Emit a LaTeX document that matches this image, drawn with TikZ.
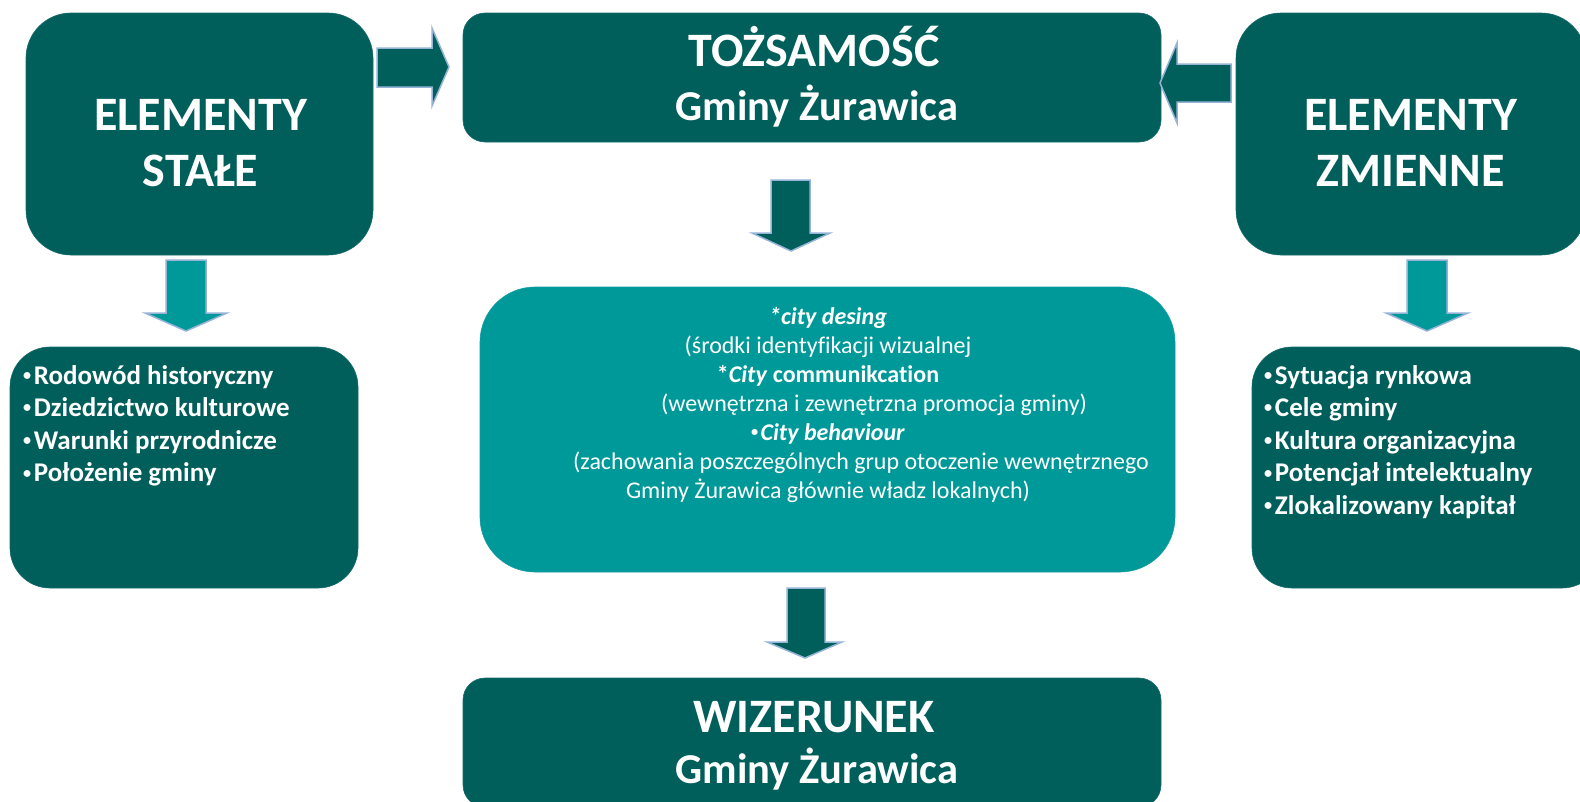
\documentclass[tikz,border=0pt]{standalone}
\usepackage{fontspec}
\setmainfont{Carlito}[Ligatures={NoCommon}, RawFeature={-calt}]
\usepackage{tikz}

\definecolor{tealdark}{RGB}{0,95,90}
\definecolor{teallight}{RGB}{0,153,153}
\definecolor{arrowedge}{RGB}{149,179,215}

% maly punktor jak w oryginale
\newcommand{\kropka}{\raisebox{0.14em}{\scalebox{0.6}{•}}\hspace{0.1em}}

\begin{document}
\begin{tikzpicture}[x=1pt, y=-1pt]
    \tikzset{
      box/.style={fill=tealdark, draw=tealdark!85!arrowedge, line width=0.6pt, inner sep=0pt},
      midbox/.style={box, fill=teallight, draw=teallight!85!arrowedge},
      blockarrow/.style={fill=tealdark, draw=arrowedge, line width=1.5pt, line join=miter},
      lightarrow/.style={blockarrow, fill=teallight},
      titletext/.style={text=white, anchor=base, inner sep=0pt, font=\bfseries\fontsize{48}{57}\selectfont},
      subtext/.style={titletext, font=\bfseries\fontsize{42.5}{50}\selectfont},
      listtext/.style={text=white, anchor=north west, inner sep=0pt, align=left, font=\bfseries\fontsize{27}{32.6}\selectfont},
      midtext/.style={text=white, anchor=north, inner sep=0pt, align=center, font=\fontsize{24}{29}\selectfont}
    }
    \clip (0,0) rectangle (1580,801);
    \fill[white] (0,0) rectangle (1580,801);

    % Elementy stale
    \node[box, rounded corners=45pt, minimum width=347pt, minimum height=242pt] (stale) at (199.5,134) {};
    \node[titletext] (staleA) at (200.5,130) {ELEMENTY};
    \node[titletext] (staleB) at (200.5,186) {STAŁE};

    % Tozsamosc
    \node[box, rounded corners=22pt, minimum width=698pt, minimum height=129pt] (tozsamosc) at (812,77.5) {};
    \node[titletext] (tozsamoscA) at (814,66) {TOŻSAMOŚĆ};
    \node[subtext] (tozsamoscB) at (817,120) {Gminy Żurawica};

    % Elementy zmienne
    \node[box, rounded corners=45pt, minimum width=350pt, minimum height=242pt] (zmienne) at (1411,134) {};
    \node[titletext] (zmienneA) at (1410.5,130) {ELEMENTY};
    \node[titletext] (zmienneB) at (1410.5,186) {ZMIENNE};

    % listy
    \node[box, rounded corners=40pt, minimum width=348pt, minimum height=241pt] (stalelist) at (184,467.5) {};
    \node[listtext] (staletxt) at (23,365) {\kropka Rodowód historyczny\\\kropka Dziedzictwo kulturowe\\\kropka Warunki przyrodnicze\\\kropka Położenie gminy};
    \node[box, rounded corners=40pt, minimum width=350pt, minimum height=241pt] (zmiennelist) at (1427,467.5) {};
    \node[listtext] (zmiennetxt) at (1264,365) {\kropka Sytuacja rynkowa\\\kropka Cele gminy\\\kropka Kultura organizacyjna\\\kropka Potencjał intelektualny\\\kropka Zlokalizowany kapitał};

    % srodek
    \node[midbox, rounded corners=55pt, minimum width=695pt, minimum height=285pt] (srodki) at (827.5,429.5) {};
    \node[midtext] (srodkitxt) at (828,307) {\textbf{\textit{*city desing}}\\
      (środki identyfikacji wizualnej\\
      \textbf{*\textit{City} communikca\kern0pt tion}\\
      \hspace*{92pt}(wewnętrzna i zewnętrzna promocja gminy)\\
      \textbf{\kropka\textit{City behaviour}}\\
      \hspace*{66pt}(zachowania poszczególnych grup otoczenie wewnętrznego\\
      Gminy Żurawica głównie władz lokalnych)};

    % Wizerunek
    \node[box, rounded corners=22pt, minimum width=698pt, minimum height=129pt] (wizerunek) at (812,742.5) {};
    \node[titletext] (wizerunekA) at (814,732) {WIZERUNEK};
    \node[subtext] (wizerunekB) at (817,783) {Gminy Żurawica};

    % strzalki
    \draw[blockarrow] (377,48) -- (432,48) -- (432,28) -- (449,67) -- (432,106) -- (432,87) -- (377,87) -- cycle;
    \draw[blockarrow] (1231,64) -- (1177,64) -- (1177,43) -- (1160,83) -- (1177,123) -- (1177,102) -- (1231,102) -- cycle;
    \draw[blockarrow] (771,180) -- (810,180) -- (810,233) -- (830,233) -- (791,251) -- (752,233) -- (771,233) -- cycle;
    \draw[lightarrow] (166,260) -- (206,260) -- (206,313) -- (227,313) -- (186,331) -- (145,313) -- (166,313) -- cycle;
    \draw[lightarrow] (1407,260) -- (1447,260) -- (1447,313) -- (1468,313) -- (1427,331) -- (1386,313) -- (1407,313) -- cycle;
    \draw[blockarrow] (787,588) -- (825,588) -- (825,642) -- (842,642) -- (805,658) -- (767,642) -- (787,642) -- cycle;
\end{tikzpicture}
\end{document}
